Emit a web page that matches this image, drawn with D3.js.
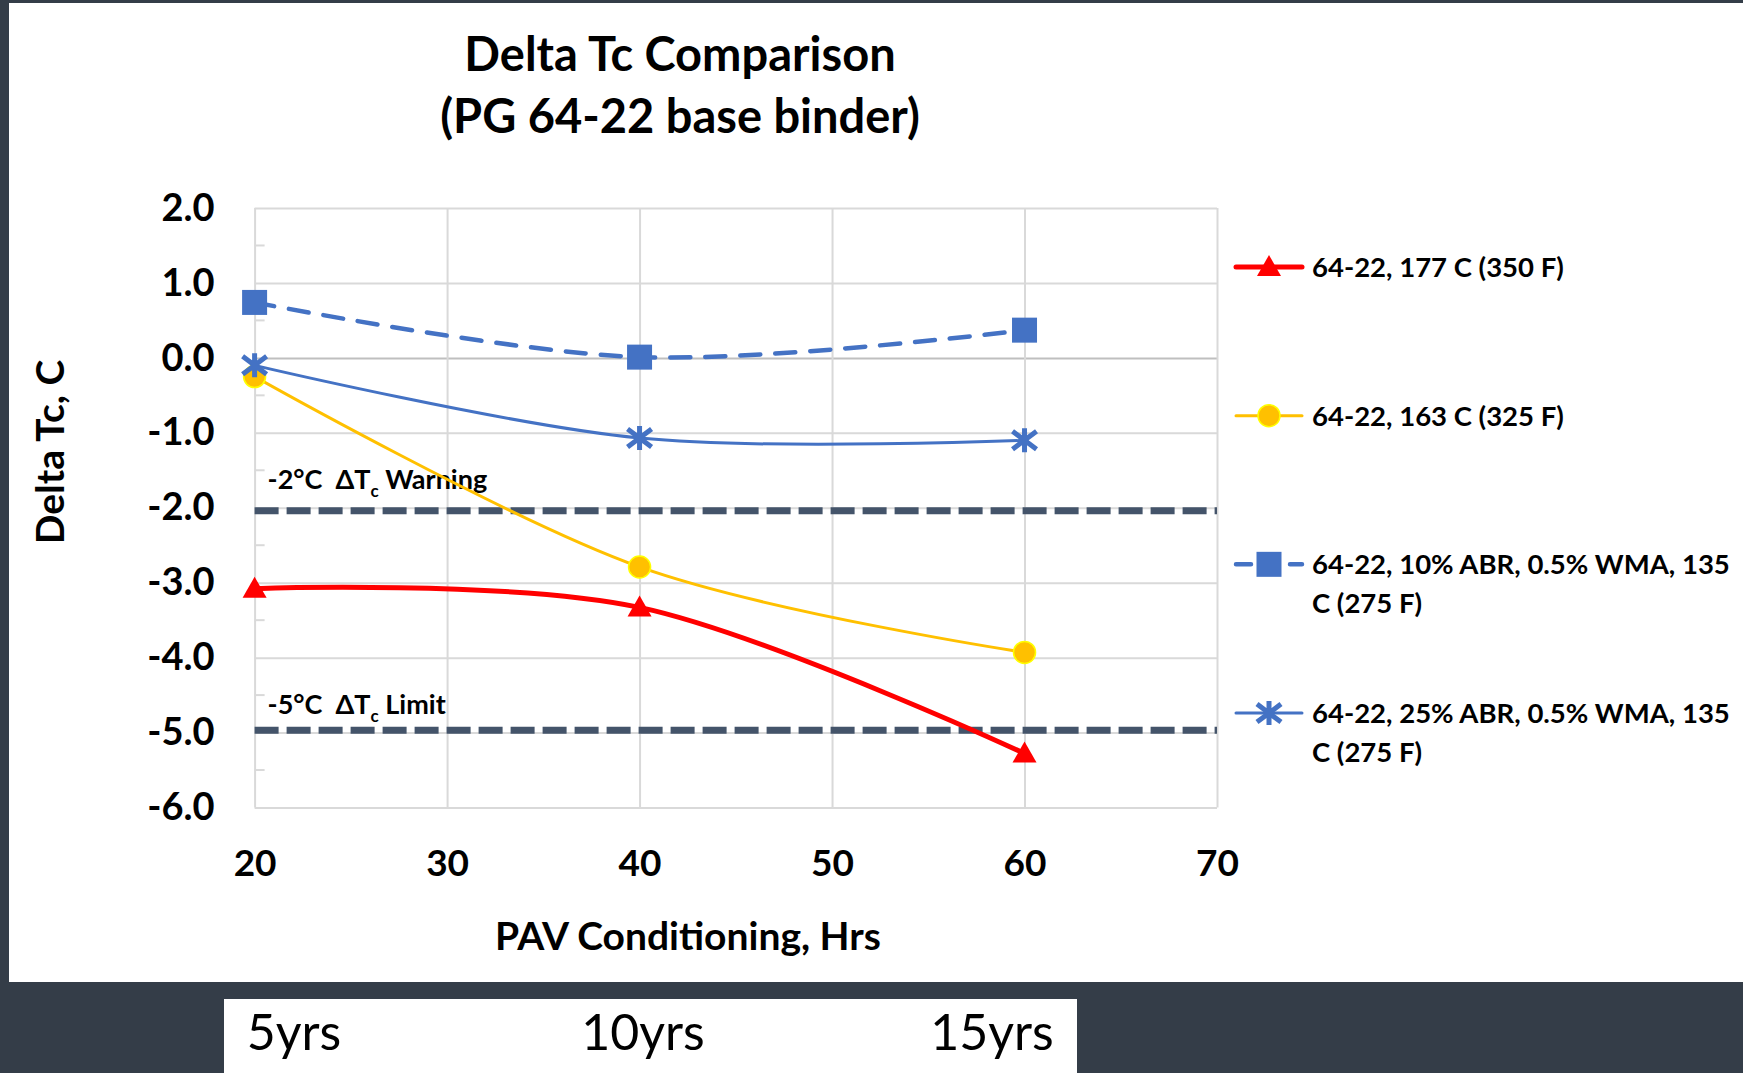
<!DOCTYPE html>
<html>
<meta charset="utf-8">
<head>
	<script src="https://d3js.org/d3.v7.min.js"></script>
	<style>
		body { margin: 0; background: #343d48; }
		svg { display: block; }
		text { font-family: Lato, "Open Sans", sans-serif; font-weight: bold; fill: #000; white-space: pre; }
	</style>
</head>
<body>
<script>
	// data
	var hours = [20, 40, 60];
	var red177 = [-3.08, -3.33, -5.28];
	var yel163 = [-0.25, -2.79, -3.93];
	var abr10 = [0.74, 0.01, 0.37];
	var abr25 = [-0.10, -1.07, -1.10];
	var seriesNames = [
		["64-22, 177 C (350 F)"],
		["64-22, 163 C (325 F)"],
		["64-22, 10% ABR, 0.5% WMA, 135", "C (275 F)"],
		["64-22, 25% ABR, 0.5% WMA, 135", "C (275 F)"]
	];
	var yTicks = [2, 1, 0, -1, -2, -3, -4, -5, -6];
	var yMinor = [1.5, 0.5, -0.5, -1.5, -2.5, -3.5, -4.5, -5.5];
	var xTicks = [20, 30, 40, 50, 60, 70];
	// warning / limit lines (as drawn in the picture)
	var limits = [-2.04, -4.97];
	var limitLabels = [["-2°C  ΔT", "c", " Warning"], ["-5°C  ΔT", "c", " Limit"]];
	var yearLabels = ["5yrs", "10yrs", "15yrs"];

	var width = 1743, height = 1073;

	var svg = d3.select("body").append("svg")
		.attr("width", width)
		.attr("height", height);

	// white panel and lower box
	svg.append("rect").attr("x", 9).attr("y", 3).attr("width", width - 9).attr("height", 979).attr("fill", "#fff");
	svg.append("rect").attr("x", 224).attr("y", 999).attr("width", 853).attr("height", 74).attr("fill", "#fff");

	var x = d3.scaleLinear().domain([20, 70]).range([254.6, 1217]);
	var y = d3.scaleLinear().domain([-6, 2]).range([807.5, 208]);

	// y gridlines + labels
	var gy = svg.append("g")
		.attr("transform", "translate(" + x(20) + ",0)")
		.call(d3.axisLeft(y).tickValues(yTicks).tickSize(-(x(70) - x(20))).tickPadding(40)
			.tickFormat(function(d) { return d.toFixed(1); }));
	gy.select(".domain").remove();
	gy.selectAll("line").attr("stroke", function(d) { return d === 0 ? "#bfbfbf" : "#d9d9d9"; }).attr("stroke-width", 2);
	gy.selectAll("text").style("font-size", "38px").attr("fill", "#000");

	// x gridlines + labels
	var gx = svg.append("g")
		.attr("transform", "translate(0," + y(-6) + ")")
		.call(d3.axisBottom(x).tickValues(xTicks).tickSize(-(y(-6) - y(2))).tickPadding(42)
			.tickFormat(d3.format("d")));
	gx.select(".domain").remove();
	gx.selectAll("line").attr("stroke", "#d9d9d9").attr("stroke-width", 2);
	gx.selectAll("text").style("font-size", "37px").attr("fill", "#000");

	// minor ticks on the value axis
	svg.append("g").selectAll("line")
		.data(yMinor).enter()
		.append("line")
		.attr("x1", x(20)).attr("x2", x(20) + 10)
		.attr("y1", function(d) { return y(d); }).attr("y2", function(d) { return y(d); })
		.attr("stroke", "#d9d9d9").attr("stroke-width", 2);

	// limit lines
	svg.append("g").selectAll("line")
		.data(limits).enter()
		.append("line")
		.attr("x1", x(20)).attr("x2", x(70))
		.attr("y1", function(d) { return y(d); }).attr("y2", function(d) { return y(d); })
		.attr("stroke", "#44546a").attr("stroke-width", 7)
		.attr("stroke-dasharray", "24,8");

	var lab = svg.append("g").selectAll("text")
		.data(limits).enter()
		.append("text")
		.attr("x", x(20) + 13)
		.attr("y", function(d) { return y(Math.round(d)) - 19; })
		.style("font-size", "27px");
	lab.each(function(d, i) {
		var t = d3.select(this);
		t.append("tspan").text(limitLabels[i][0]);
		t.append("tspan").attr("dy", 8).style("font-size", "17px").text(limitLabels[i][1]);
		t.append("tspan").attr("dy", -8).text(limitLabels[i][2]);
	});

	var series = [
		{ values: red177, color: "#ff0000", width: 5, dash: null, marker: "triangle" },
		{ values: yel163, color: "#ffc000", width: 3, dash: null, marker: "circle" },
		{ values: abr10, color: "#4472c4", width: 4.5, dash: "20,15", marker: "square" },
		{ values: abr25, color: "#4472c4", width: 3, dash: null, marker: "star" }
	];

	var line = d3.line()
		.x(function(d) { return x(d[0]); })
		.y(function(d) { return y(d[1]); })
		.curve(d3.curveCardinal.tension(0));

	function drawMarker(g, type, color, cx, cy) {
		if (type === "triangle") {
			g.append("path")
				.attr("d", "M" + cx + "," + (cy - 12) + "L" + (cx + 12) + "," + (cy + 9) + "L" + (cx - 12) + "," + (cy + 9) + "Z")
				.attr("fill", color);
		} else if (type === "circle") {
			g.append("circle").attr("cx", cx).attr("cy", cy).attr("r", 11)
				.attr("fill", color).attr("stroke", "#ffff00").attr("stroke-width", 1.5);
		} else if (type === "square") {
			g.append("rect").attr("x", cx - 12.5).attr("y", cy - 12.5).attr("width", 25).attr("height", 25)
				.attr("fill", color);
		} else {
			var s = 12;
			g.append("path")
				.attr("d", "M" + (cx - s) + "," + (cy - s + 3) + "L" + (cx + s) + "," + (cy + s - 3) +
					"M" + (cx - s) + "," + (cy + s - 3) + "L" + (cx + s) + "," + (cy - s + 3) +
					"M" + cx + "," + (cy - s) + "L" + cx + "," + (cy + s))
				.attr("stroke", color).attr("stroke-width", 5).attr("fill", "none");
		}
	}

	series.forEach(function(s) {
		var pts = hours.map(function(h, i) { return [h, s.values[i]]; });
		svg.append("path")
			.datum(pts)
			.attr("d", line)
			.attr("fill", "none")
			.attr("stroke", s.color)
			.attr("stroke-width", s.width)
			.attr("stroke-dasharray", s.dash)
			.attr("stroke-linecap", "round");
		var mg = svg.append("g");
		pts.forEach(function(p) { drawMarker(mg, s.marker, s.color, x(p[0]), y(p[1])); });
	});

	// legend
	var ly = d3.scalePoint().domain(d3.range(seriesNames.length)).range([267, 713]);
	series.forEach(function(s, i) {
		var g = svg.append("g").attr("transform", "translate(0," + ly(i) + ")");
		g.append("line").attr("x1", 1236).attr("x2", 1302).attr("y1", 0).attr("y2", 0)
			.attr("stroke", s.color).attr("stroke-width", s.width)
			.attr("stroke-dasharray", s.dash ? "15,12" : null)
			.attr("stroke-linecap", "round");
		drawMarker(g, s.marker, s.color, 1269, 0);
		var t = g.append("text").attr("x", 1312).attr("y", 10).style("font-size", "27.5px");
		seriesNames[i].forEach(function(l, k) {
			t.append("tspan").attr("x", 1312).attr("dy", k === 0 ? 0 : 39).text(l);
		});
	});

	// titles
	svg.append("text").attr("x", 680).attr("y", 71).attr("text-anchor", "middle")
		.style("font-size", "47px").text("Delta Tc Comparison");
	svg.append("text").attr("x", 680).attr("y", 133).attr("text-anchor", "middle")
		.style("font-size", "47px").text("(PG 64-22 base binder)");
	svg.append("text").attr("x", 688).attr("y", 950).attr("text-anchor", "middle")
		.style("font-size", "39px").text("PAV Conditioning, Hrs");
	svg.append("text").attr("transform", "translate(64,452) rotate(-90)").attr("text-anchor", "middle")
		.style("font-size", "39px").text("Delta Tc, C");

	// years strip
	var yx = d3.scalePoint().domain(yearLabels).range([294, 992]);
	svg.append("g").selectAll("text")
		.data(yearLabels).enter()
		.append("text")
		.attr("x", function(d) { return yx(d); })
		.attr("y", 1050)
		.attr("text-anchor", "middle")
		.style("font-weight", "normal")
		.style("font-size", "50px")
		.text(function(d) { return d; });
</script>
</body>
</html>
